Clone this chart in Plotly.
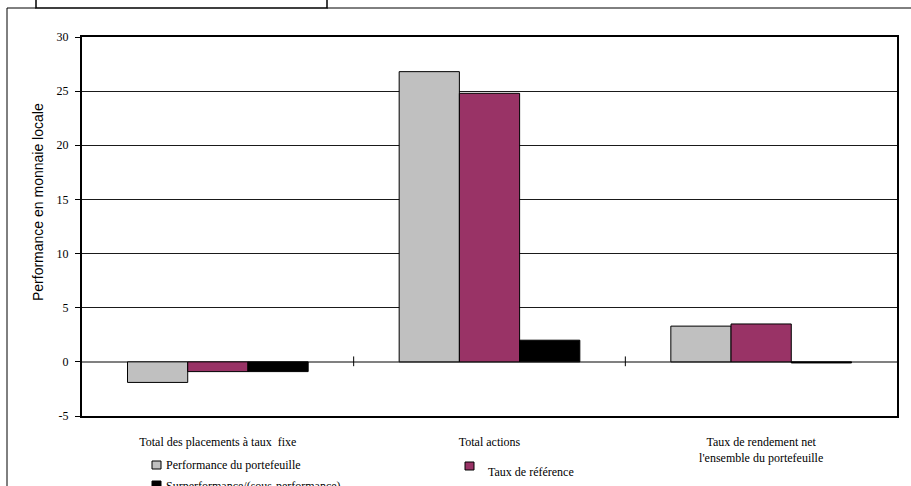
import plotly.graph_objects as go

categories = ["Total des placements à taux  fixe", "Total actions",
              "Taux de rendement net<br>l'ensemble du portefeuille"]
series_names = ["Performance du portefeuille", "Taux de référence",
                "Surperformance/(sous-performance)"]
portefeuille = [-1.9, 26.8, 3.3]
reference = [-0.9, 24.8, 3.5]
surperformance = [-0.9, 2.0, -0.1]
colors = ["#C0C0C0", "#993366", "#000000"]
y_ticks = [-5, 0, 5, 10, 15, 20, 25, 30]
y_tick_labels = ["-5", "0", "5", "10", "15", "20", "25", "30"]

W, H = 911, 486
L, R, T, B = 82, 897, 37, 416


def px(x):
    return (x - L) / (R - L)


def py(y):
    return (B - y) / (B - T)


fig = go.Figure()
for name, vals, col in zip(series_names, [portefeuille, reference, surperformance], colors):
    fig.add_trace(go.Bar(x=list(range(len(categories))), y=vals, name=name,
                         marker=dict(color=col, line=dict(color="#000000", width=1)),
                         showlegend=False))

serif = "Liberation Serif, Times New Roman, serif"

fig.update_layout(
    width=W, height=H,
    margin=dict(l=L, r=W - R, t=T, b=H - B),
    paper_bgcolor="white", plot_bgcolor="white",
    barmode="group", bargap=0.335, bargroupgap=0,
    font=dict(family=serif, size=11, color="#000"),
    xaxis=dict(tickmode="array", tickvals=list(range(len(categories))), ticktext=categories,
               range=[-0.5, 2.5], showgrid=False, ticks="", showline=True, linecolor="#000",
               linewidth=2, mirror=True, tickfont=dict(family=serif, size=12, color="#000"),
               ticklabelstandoff=14, zeroline=False),
    yaxis=dict(range=[-5, 30], tickmode="array", tickvals=y_ticks, ticktext=y_tick_labels,
               ticks="outside", ticklen=5, tickcolor="#000", ticklabelstandoff=4,
               showline=True, linecolor="#000", linewidth=2, mirror=True,
               showgrid=True, gridcolor="#1a1a1a", gridwidth=1,
               zeroline=True, zerolinecolor="#808080", zerolinewidth=1.5,
               tickfont=dict(family=serif, size=12, color="#000")),
)

# category separator ticks on the zero line
for xb in [0.5, 1.5]:
    fig.add_shape(type="line", xref="x", yref="y", x0=xb, x1=xb, y0=-0.4, y1=0.5,
                  line=dict(color="#000", width=1))

# outer frame and title box
fig.add_shape(type="line", xref="paper", yref="paper", x0=px(7), x1=px(7), y0=py(8), y1=py(490),
              line=dict(color="#000", width=1))
fig.add_shape(type="line", xref="paper", yref="paper", x0=px(7), x1=px(36), y0=py(8), y1=py(8),
              line=dict(color="#000", width=1))
fig.add_shape(type="line", xref="paper", yref="paper", x0=px(327), x1=px(915), y0=py(8), y1=py(8),
              line=dict(color="#000", width=1))
fig.add_shape(type="rect", xref="paper", yref="paper", x0=px(36), x1=px(327), y0=py(8), y1=py(-5),
              line=dict(color="#000", width=1.5), fillcolor="white")

# y-axis title
fig.add_annotation(text="Performance en monnaie locale", xref="paper", yref="paper",
                   x=px(38), y=py(202), textangle=-90, showarrow=False,
                   font=dict(family="Liberation Sans, Arial, sans-serif", size=14, color="#000"),
                   xanchor="center", yanchor="middle")

# manual legend
legend_pos = [(152, 461, 164, 465), (465, 462, 486, 472), (152, 481, 164, 486)]
for name, col, (sx, sy, tx, ty) in zip(series_names, colors, legend_pos):
    fig.add_shape(type="rect", xref="paper", yref="paper", x0=px(sx), x1=px(sx + 9),
                  y0=py(sy), y1=py(sy + 8), fillcolor=col, line=dict(color="#000", width=1))
    fig.add_annotation(text=name, xref="paper", yref="paper", x=px(tx), y=py(ty),
                       xanchor="left", yanchor="middle", showarrow=False,
                       font=dict(family=serif, size=12, color="#000"))

fig.write_html("out.html")
